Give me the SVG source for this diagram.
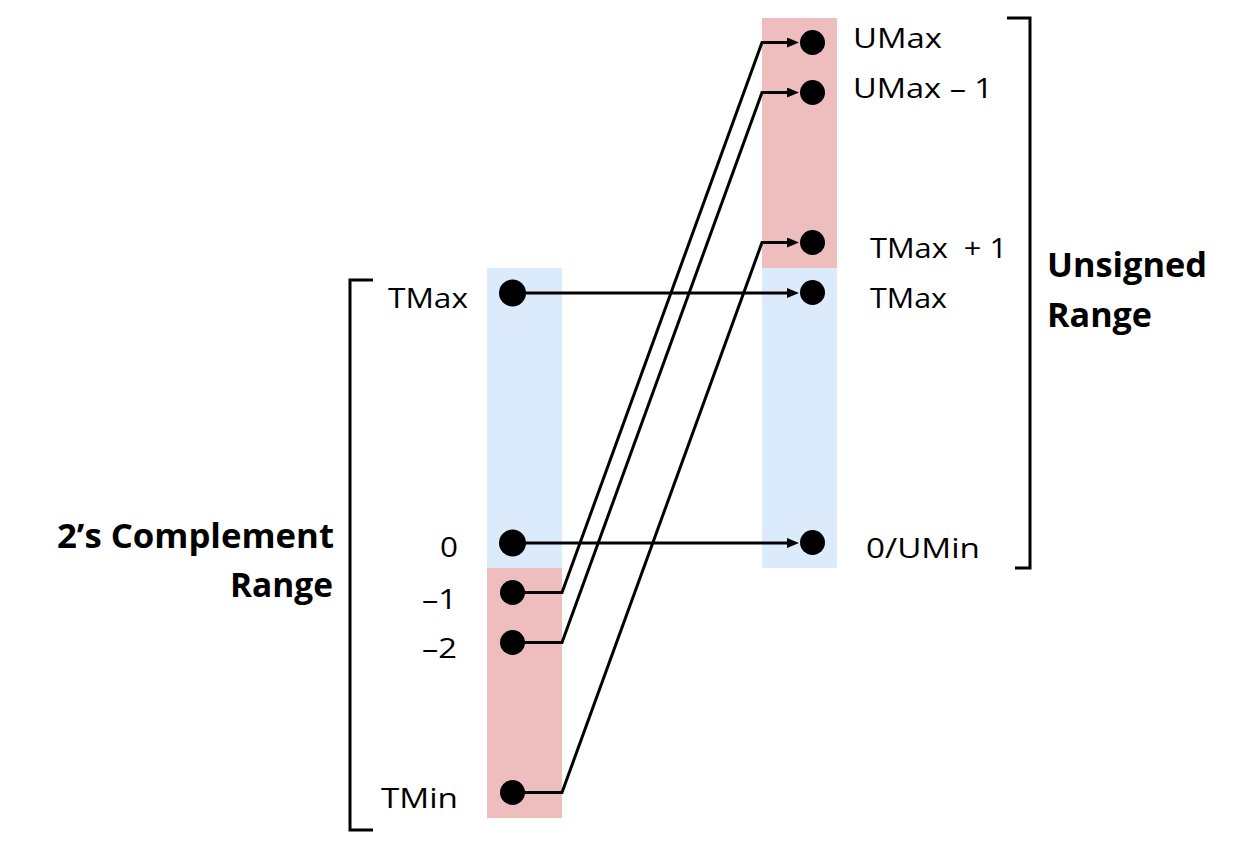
<svg xmlns="http://www.w3.org/2000/svg" width="1233" height="843" viewBox="0 0 1233 843">
<style>
.blue{fill:#DCEBFB}
.red{fill:#EEBEBE}
.dot{fill:#000}
.lbl{font-family:"Open Sans","Noto Sans","Liberation Sans",sans-serif;font-size:28px;fill:#000}
.bold{font-family:"Open Sans","Noto Sans","Liberation Sans",sans-serif;font-size:34px;font-weight:700;fill:#000}
.wire{fill:none;stroke:#000;stroke-width:3;stroke-linejoin:miter}
.brk{fill:none;stroke:#000;stroke-width:3}
</style>
<defs>
<marker id="arr" viewBox="0 0 12 10" refX="2" refY="5" markerWidth="12" markerHeight="10" markerUnits="userSpaceOnUse" orient="auto">
<path d="M0,0 L12,5 L0,10 Z" fill="#000"/>
</marker>
</defs>
<rect width="1233" height="843" fill="#fff"/>
<g id="bands">
<rect class="blue" x="487" y="268" width="75" height="300"/>
<rect class="red" x="487" y="568" width="75" height="250"/>
<rect class="red" x="762" y="18" width="75" height="250"/>
<rect class="blue" x="762" y="268" width="75" height="300"/>
</g>
<g id="brackets">
<path class="brk" d="M373,280 H350 V830 H373"/>
<path class="brk" d="M1007,18 H1030 V568 H1015"/>
</g>
<g id="connectors">
<path class="wire" d="M512,592.5 H562 L762,42.5 H789" marker-end="url(#arr)"/>
<path class="wire" d="M512,642.5 H562 L762,92.5 H789" marker-end="url(#arr)"/>
<path class="wire" d="M512,792.5 H562 L762,242.5 H789" marker-end="url(#arr)"/>
<path class="wire" d="M512,293 H789" marker-end="url(#arr)"/>
<path class="wire" d="M512,543 H789" marker-end="url(#arr)"/>
</g>
<g id="left-tmax"><circle class="dot" cx="512.5" cy="293" r="13.5"/><text class="lbl" x="388" y="308" textLength="80" lengthAdjust="spacingAndGlyphs">TMax</text></g>
<g id="left-zero"><circle class="dot" cx="512.5" cy="543" r="13.5"/><text class="lbl" x="440" y="557" textLength="18" lengthAdjust="spacingAndGlyphs">0</text></g>
<g id="left-m1"><circle class="dot" cx="512.5" cy="592.5" r="12.5"/><text class="lbl" x="422" y="609" textLength="35" lengthAdjust="spacingAndGlyphs">–1</text></g>
<g id="left-m2"><circle class="dot" cx="512.5" cy="642.5" r="12.5"/><text class="lbl" x="422" y="658" textLength="35" lengthAdjust="spacingAndGlyphs">–2</text></g>
<g id="left-tmin"><circle class="dot" cx="512.5" cy="792.5" r="12.5"/><text class="lbl" x="381" y="808" textLength="77" lengthAdjust="spacingAndGlyphs">TMin</text></g>
<g id="right-umax"><circle class="dot" cx="812.5" cy="42.5" r="12.5"/><text class="lbl" x="853" y="48" textLength="89" lengthAdjust="spacingAndGlyphs">UMax</text></g>
<g id="right-umax1"><circle class="dot" cx="812.5" cy="92.5" r="12.5"/><text class="lbl" x="853" y="98" textLength="140" lengthAdjust="spacingAndGlyphs">UMax – 1</text></g>
<g id="right-tmax1"><circle class="dot" cx="812.5" cy="242.5" r="12.5"/><text class="lbl" x="870" y="258" textLength="137" lengthAdjust="spacingAndGlyphs" xml:space="preserve">TMax  + 1</text></g>
<g id="right-tmax"><circle class="dot" cx="812.5" cy="292.5" r="12.5"/><text class="lbl" x="870" y="308" textLength="77" lengthAdjust="spacingAndGlyphs">TMax</text></g>
<g id="right-zero"><circle class="dot" cx="812.5" cy="542.5" r="12.5"/><text class="lbl" x="866" y="558" textLength="114" lengthAdjust="spacingAndGlyphs">0/UMin</text></g>
<g id="label-twos"><text class="bold" x="57" y="548" textLength="277" lengthAdjust="spacingAndGlyphs">2’s Complement</text><text class="bold" x="230" y="597" textLength="103" lengthAdjust="spacingAndGlyphs">Range</text></g>
<g id="label-unsigned"><text class="bold" x="1047" y="277" textLength="160" lengthAdjust="spacingAndGlyphs">Unsigned</text><text class="bold" x="1047" y="327" textLength="105" lengthAdjust="spacingAndGlyphs">Range</text></g>
</svg>
